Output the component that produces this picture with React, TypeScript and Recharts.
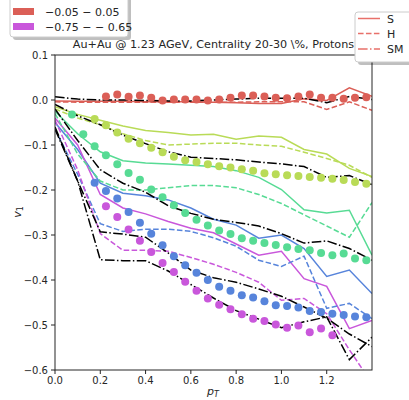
import React from 'react';
import { ComposedChart, Line, Scatter, XAxis, YAxis } from 'recharts';

// model curves are sampled every 0.1 in pT, data points every 0.05
const linePt = [0, 0.1, 0.2, 0.3, 0.4, 0.5, 0.6, 0.7, 0.8, 0.9, 1.0, 1.1, 1.2, 1.3, 1.4];
const dotPt = [
  0.025, 0.075, 0.125, 0.175, 0.225, 0.275, 0.325, 0.375, 0.425, 0.475, 0.525, 0.575, 0.625, 0.675,
  0.725, 0.775, 0.825, 0.875, 0.925, 0.975, 1.025, 1.075, 1.125, 1.175, 1.225, 1.275, 1.325, 1.375,
];
const xTicks = [0, 0.2, 0.4, 0.6, 0.8, 1.0, 1.2];
const yTicks = [-0.6, -0.5, -0.4, -0.3, -0.2, -0.1, 0, 0.1];

// rapidity bin -0.05 – 0.05
const redDots = [
  null, null, null, null, 0.008, 0.012, 0.007, 0.01, 0.005, -0.001, 0.001, 0.001, 0.001, -0.001,
  0.001, 0.005, 0.01, 0.01, 0.008, 0.005, 0.004, 0.008, 0.012, 0.005, 0.005, 0.003, 0.005, 0.006,
];
const redS = [-0.002, -0.003, -0.003, -0.003, -0.004, -0.004, -0.004, -0.005, -0.006, -0.008, -0.008, 0.003, -0.001, 0.027, 0.008];
const redH = [-0.004, -0.005, -0.005, -0.005, -0.005, -0.005, -0.005, -0.005, -0.005, -0.004, -0.004, -0.004, -0.021, -0.004, -0.023];
const redSM = [0.007, 0.002, 0.0, 0.0, -0.001, -0.002, -0.002, 0.0, 0.002, 0.004, 0.004, 0.004, -0.006, 0.008, 0.001];

// yellow-green bin
const ygDots = [
  null, null, null, -0.042, -0.056, -0.072, -0.086, -0.096, -0.106, -0.116, -0.126, -0.134, -0.138, -0.143,
  -0.147, -0.15, -0.154, -0.157, -0.163, -0.165, -0.167, -0.169, -0.171, -0.173, -0.175, -0.178, -0.182, -0.186,
];
const ygS = [-0.015, -0.032, -0.045, -0.058, -0.068, -0.072, -0.078, -0.076, -0.087, -0.08, -0.083, -0.11, -0.12, -0.152, -0.17];
const ygH = [-0.02, -0.04, -0.055, -0.075, -0.09, -0.1, -0.098, -0.096, -0.096, -0.1, -0.103, -0.116, -0.13, -0.145, -0.172];
const ygSM = [-0.01, -0.035, -0.055, -0.078, -0.097, -0.115, -0.127, -0.13, -0.133, -0.138, -0.142, -0.148, -0.172, -0.168, -0.188];

// green bin
const grDots = [
  null, -0.032, -0.076, -0.103, -0.123, -0.143, -0.162, -0.177, -0.199, -0.216, -0.234, -0.251, -0.266, -0.279,
  -0.29, -0.298, -0.307, -0.313, -0.318, -0.322, -0.327, -0.331, -0.334, -0.34, -0.345, -0.341, -0.352, -0.356,
];
const grS = [-0.025, -0.075, -0.115, -0.135, -0.14, -0.142, -0.145, -0.148, -0.157, -0.172, -0.199, -0.244, -0.251, -0.245, -0.345];
const grH = [-0.03, -0.12, -0.18, -0.2, -0.2, -0.195, -0.19, -0.19, -0.195, -0.21, -0.23, -0.255, -0.28, -0.305, -0.228];
const grSM = [-0.02, -0.09, -0.155, -0.185, -0.205, -0.235, -0.252, -0.265, -0.272, -0.28, -0.297, -0.318, -0.313, -0.33, -0.356];

// blue bin
const blDots = [
  null, null, null, -0.184, -0.202, -0.219, -0.249, -0.273, -0.297, -0.323, -0.347, -0.367, -0.384, -0.4,
  -0.415, -0.424, -0.434, -0.439, -0.447, -0.456, -0.458, -0.461, -0.469, -0.471, -0.475, -0.478, -0.481, -0.483,
];
const blS = [-0.05, -0.11, -0.185, -0.207, -0.213, -0.222, -0.24, -0.265, -0.278, -0.307, -0.3, -0.33, -0.392, -0.378, -0.43];
const blH = [-0.065, -0.165, -0.275, -0.292, -0.287, -0.287, -0.292, -0.306, -0.325, -0.356, -0.37, -0.347, -0.463, -0.452, -0.486];
const blSM = [-0.06, -0.18, -0.293, -0.298, -0.305, -0.34, -0.378, -0.395, -0.405, -0.42, -0.436, -0.46, -0.485, -0.52, -0.548];

// rapidity bin -0.75 – -0.65
const mgDots = [
  null, null, null, null, -0.236, -0.26, -0.288, -0.313, -0.338, -0.362, -0.382, -0.404, -0.424, -0.441,
  -0.455, -0.465, -0.476, -0.486, -0.491, -0.499, -0.506, -0.501, -0.516, -0.508, -0.523, null, null, null,
];
const mgS = [-0.04, -0.1, -0.21, -0.24, -0.253, -0.27, -0.285, -0.295, -0.32, -0.345, -0.336, -0.397, -0.414, -0.508, -0.49];
const mgH = [-0.045, -0.155, -0.297, -0.334, -0.334, -0.336, -0.35, -0.365, -0.383, -0.405, -0.445, -0.441, -0.475, -0.555, -0.63];
const mgSM = [-0.065, -0.18, -0.355, -0.357, -0.357, -0.38, -0.41, -0.44, -0.468, -0.487, -0.506, -0.493, -0.482, -0.577, -0.527];

const bins = [
  { color: '#db5f57', dots: redDots, s: redS, h: redH, sm: redSM },
  { color: '#b9db57', dots: ygDots, s: ygS, h: ygH, sm: ygSM },
  { color: '#57db94', dots: grDots, s: grS, h: grH, sm: grSM },
  { color: '#5784db', dots: blDots, s: blS, h: blH, sm: blSM },
  { color: '#c957db', dots: mgDots, s: mgS, h: mgH, sm: mgSM },
];

const toPts = (xs: number[], ys: (number | null)[]) =>
  xs.map((x, i) => ({ x, y: ys[i] })).filter((p) => p.y !== null);

const font = 'DejaVu Sans, sans-serif';
const ink = '#262626';
const DASH = '5.55 2.4';
const DASHDOT = '9.6 2.4 1.5 2.4';

const fmtY = (v: number) => (v < 0 ? '\u2212' : '') + Math.abs(v).toFixed(1);

export default function App() {
  return (
    <div style={{ position: 'absolute', left: 0, top: 0, width: 409, height: 400, background: '#fff' }}>
      <ComposedChart width={409} height={400} margin={{ top: 55, right: 37, bottom: 0, left: 5 }}>
        <XAxis
          type='number'
          dataKey='x'
          domain={[0, 1.4]}
          ticks={xTicks}
          allowDataOverflow
          height={30}
          tickFormatter={(v: number) => v.toFixed(1)}
          tick={{ fontSize: 10, fill: ink, fontFamily: font }}
          tickSize={4}
          tickMargin={3}
          axisLine={false}
          tickLine={{ stroke: ink }}
        />
        <YAxis
          type='number'
          dataKey='y'
          domain={[-0.6, 0.1]}
          ticks={yTicks}
          allowDataOverflow
          width={50}
          tickFormatter={fmtY}
          tick={{ fontSize: 10, fill: ink, fontFamily: font }}
          tickSize={4}
          tickMargin={3}
          axisLine={false}
          tickLine={{ stroke: ink }}
        />

        {bins.map((b, i) => (
          <Scatter
            key={`dots-${i}`}
            data={toPts(dotPt, b.dots)}
            fill={b.color}
            isAnimationActive={false}
            shape={(p: any) => <circle cx={p.cx} cy={p.cy} r={4} fill={b.color} />}
          />
        ))}
        {bins.map((b, i) => (
          <Line
            key={`s-${i}`}
            data={toPts(linePt, b.s)}
            dataKey='y'
            stroke={b.color}
            strokeWidth={1.5}
            dot={false}
            type='linear'
            isAnimationActive={false}
          />
        ))}
        {bins.map((b, i) => (
          <Line
            key={`h-${i}`}
            data={toPts(linePt, b.h)}
            dataKey='y'
            stroke={b.color}
            strokeWidth={1.5}
            strokeDasharray={DASH}
            dot={false}
            type='linear'
            isAnimationActive={false}
          />
        ))}
        {bins.map((b, i) => (
          <Line
            key={`sm-${i}`}
            data={toPts(linePt, b.sm)}
            dataKey='y'
            stroke='#000'
            strokeWidth={1.5}
            strokeDasharray={DASHDOT}
            dot={false}
            type='linear'
            isAnimationActive={false}
          />
        ))}
      </ComposedChart>

      {/* frame, title, labels, legends */}
      <svg
        width={409}
        height={400}
        style={{ position: 'absolute', left: 0, top: 0, pointerEvents: 'none' }}
        fontFamily={font}
      >
        <rect x={55} y={55} width={317} height={315} fill='none' stroke={ink} strokeWidth={1} />
        <text x={213.5} y={48} textAnchor='middle' fontSize={11.2} fill={ink}>
          Au+Au @ 1.23 AGeV, Centrality 20-30 \%, Protons
        </text>
        <text x={213} y={395} textAnchor='middle' fontSize={11} fill={ink} fontStyle='italic'>
          p<tspan fontSize={8} dy={2}>T</tspan>
        </text>
        <text transform='translate(21,212) rotate(-90)' textAnchor='middle' fontSize={11} fill={ink} fontStyle='italic'>
          v<tspan fontSize={8} dy={2} fontStyle='normal'>1</tspan>
        </text>

        {/* left legend */}
        <rect x={13} y={-5} width={118} height={45} rx={3} fill='#000' opacity={0.25} />
        <rect x={10} y={-8} width={118} height={45} rx={3} fill='#fff' stroke='#ccc' />
        <rect x={13} y={8} width={21} height={7} fill='#db5f57' />
        <text x={45} y={15.5} fontSize={11} fill={ink}>{'\u22120.05 \u2212 0.05'}</text>
        <rect x={13} y={23} width={21} height={7} fill='#c957db' />
        <text x={45} y={30.5} fontSize={11} fill={ink}>{'\u22120.75 \u2212 \u2212 0.65'}</text>

        {/* right legend */}
        <rect x={358} y={15} width={60} height={50} rx={3} fill='#000' opacity={0.25} />
        <rect x={355} y={12} width={60} height={50} rx={3} fill='#fff' stroke='#ccc' />
        <line x1={358} y1={18.5} x2={380} y2={18.5} stroke='#e8706a' strokeWidth={1.5} />
        <text x={387} y={22.5} fontSize={11} fill={ink}>S</text>
        <line x1={358} y1={33.5} x2={380} y2={33.5} stroke='#e8706a' strokeWidth={1.5} strokeDasharray={DASH} />
        <text x={387} y={37.5} fontSize={11} fill={ink}>H</text>
        <line x1={358} y1={49} x2={380} y2={49} stroke='#e8706a' strokeWidth={1.5} strokeDasharray={DASHDOT} />
        <text x={387} y={53} fontSize={11} fill={ink}>SM</text>
      </svg>
    </div>
  );
}
